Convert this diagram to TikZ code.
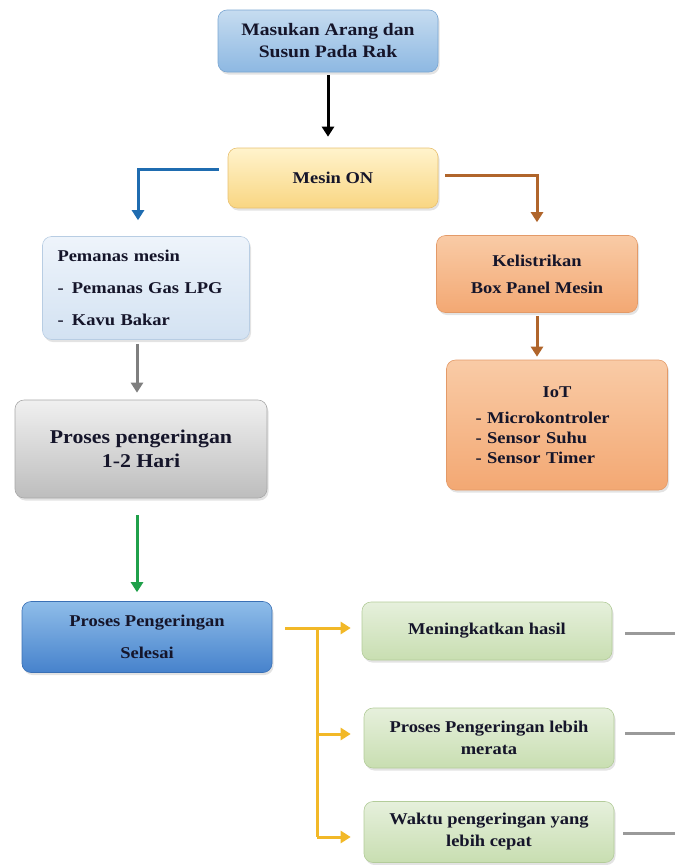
\documentclass[tikz,border=0pt]{standalone}
\usepackage{fontspec}
\setmainfont[FakeStretch=1.12]{Liberation Serif}
\usetikzlibrary{arrows.meta,shadows,calc}
\definecolor{txt}{HTML}{15152A}
\definecolor{btop}{HTML}{C6DCF0}\definecolor{bbot}{HTML}{8DB8E2}\definecolor{bdraw}{HTML}{7AA6D2}
\definecolor{ytop}{HTML}{FFF3CC}\definecolor{ybot}{HTML}{F9D682}\definecolor{ydraw}{HTML}{E8C070}
\definecolor{ptop}{HTML}{EEF4FB}\definecolor{pbot}{HTML}{D3E2F2}\definecolor{pdraw}{HTML}{B8CDE3}
\definecolor{otop}{HTML}{F9CBA6}\definecolor{obot}{HTML}{F3A873}\definecolor{odraw}{HTML}{E39A68}
\definecolor{gtop}{HTML}{F0F0F0}\definecolor{gbot}{HTML}{BDBDBD}\definecolor{gdraw}{HTML}{A8A8A8}
\definecolor{stop}{HTML}{8FBDE9}\definecolor{sbot}{HTML}{4682CC}\definecolor{sdraw}{HTML}{3A70B5}
\definecolor{ntop}{HTML}{E6F0DC}\definecolor{nbot}{HTML}{C8DEB1}\definecolor{ndraw}{HTML}{B3CC9A}
\definecolor{ablue}{HTML}{1F6CB0}\definecolor{abrown}{HTML}{B0652B}\definecolor{agray}{HTML}{7F7F7F}
\definecolor{agreen}{HTML}{1FA04A}\definecolor{ayellow}{HTML}{F2B827}\definecolor{lgray}{HTML}{9A9A9A}
\tikzset{
  basebox/.style={rounded corners=9pt, inner sep=0pt, align=center, line width=0.6pt,
    font=\bfseries\fontsize{16.5}{20}\selectfont, text=txt,
    drop shadow={opacity=0.22, shadow xshift=1.5pt, shadow yshift=-2.5pt}},
  bluebox/.style={basebox, top color=btop, bottom color=bbot, draw=bdraw},
  yellowbox/.style={basebox, top color=ytop, bottom color=ybot, draw=ydraw},
  palebox/.style={basebox, top color=ptop, bottom color=pbot, draw=pdraw},
  orangebox/.style={basebox, top color=otop, bottom color=obot, draw=odraw},
  graybox/.style={basebox, top color=gtop, bottom color=gbot, draw=gdraw},
  donebox/.style={basebox, top color=stop, bottom color=sbot, draw=sdraw},
  greenbox/.style={basebox, top color=ntop, bottom color=nbot, draw=ndraw},
  conn/.style={line width=3pt, -{Triangle[width=12pt,length=10pt]}},
  plainline/.style={line width=3pt, draw=lgray}
}
\begin{document}
\begin{tikzpicture}[x=1pt,y=-1pt]
\useasboundingbox (0,0) rectangle (675,865);

\node[bluebox, minimum width=220pt, minimum height=62pt, font=\bfseries\fontsize{17.5}{20}\selectfont] (masuk) at (328,41)
  {Masukan Arang dan\\[2pt]Susun Pada Rak};
\node[yellowbox, minimum width=210pt, minimum height=60pt] (mesin) at (333,178) {Mesin ON};
\node[palebox, text width=177pt, inner xsep=15pt, align=left, minimum height=103pt] (pemanas) at (146,288)
  {Pemanas mesin\\[12pt]-\enspace Pemanas Gas LPG\\[12pt]-\enspace Kavu Bakar};
\node[orangebox, minimum width=201pt, minimum height=77pt] (kel) at (537,274)
  {Kelistrikan\\[7pt]Box Panel Mesin};
\node[orangebox, text width=163pt, inner xsep=29pt, align=left, minimum height=130pt] (iot) at (557,425)
  {\makebox[\linewidth][c]{IoT}\\[6pt]- Microkontroler\\- Sensor Suhu\\- Sensor Timer};
\node[graybox, minimum width=252pt, minimum height=98pt, font=\bfseries\fontsize{19.5}{24}\selectfont] (proses) at (141,449)
  {Proses pengeringan\\1-2 Hari};
\node[donebox, minimum width=250pt, minimum height=71pt] (selesai) at (147,637)
  {Proses Pengeringan\\[12pt]Selesai};
\node[greenbox, minimum width=250pt, minimum height=58pt] (hasil) at (487,631) {Meningkatkan hasil};
\node[greenbox, minimum width=250pt, minimum height=60pt] (merata) at (489,738)
  {Proses Pengeringan lebih\\[2pt]merata};
\node[greenbox, minimum width=250pt, minimum height=61pt] (cepat) at (489,832)
  {Waktu pengeringan yang\\[2pt]lebih cepat};

% connectors
\draw[conn, draw=black] ([yshift=-3pt]masuk.south) -- ([yshift=11pt]masuk.south |- mesin.north);
\draw[conn, draw=ablue] ([xshift=-9pt,yshift=9pt]mesin.west) -| ([xshift=-8pt,yshift=16pt]pemanas.north);
\draw[conn, draw=abrown] ([xshift=7pt,yshift=3pt]mesin.east) -| ([yshift=13pt]kel.north);
\draw[conn, draw=abrown] ([yshift=-3pt]kel.south) -- ([yshift=3pt]kel.south |- iot.north);
\draw[conn, draw=agray] ([xshift=-9pt,yshift=-4pt]pemanas.south) -- ([xshift=-4pt,yshift=7pt]proses.north);
\draw[conn, draw=agreen] ([xshift=-4pt,yshift=-17pt]proses.south) -- ([xshift=-10pt,yshift=9pt]selesai.north);

\coordinate (split) at ([xshift=45pt,yshift=9pt]selesai.east);
\coordinate (mid) at ([yshift=4pt]split |- merata.west);
\coordinate (bot) at ([yshift=-5pt]split |- cepat.west);
\draw[line width=3pt, draw=ayellow] ([xshift=13pt,yshift=9pt]selesai.east) -- (split) -- (bot);
\draw[conn, draw=ayellow] (split) -- ([xshift=-11pt]hasil.west |- split);
\draw[conn, draw=ayellow] (mid) -- ([xshift=-13pt]merata.west |- mid);
\draw[conn, draw=ayellow] (bot) -- ([xshift=-13pt]cepat.west |- bot);

\coordinate (e1) at (675,633);
\coordinate (e2) at (675,733);
\coordinate (e3) at (675,833);
\draw[plainline] ([xshift=13pt]hasil.east |- e1) -- (e1);
\draw[plainline] ([xshift=11pt]merata.east |- e2) -- (e2);
\draw[plainline] ([xshift=9pt]cepat.east |- e3) -- (e3);
\end{tikzpicture}
\end{document}
